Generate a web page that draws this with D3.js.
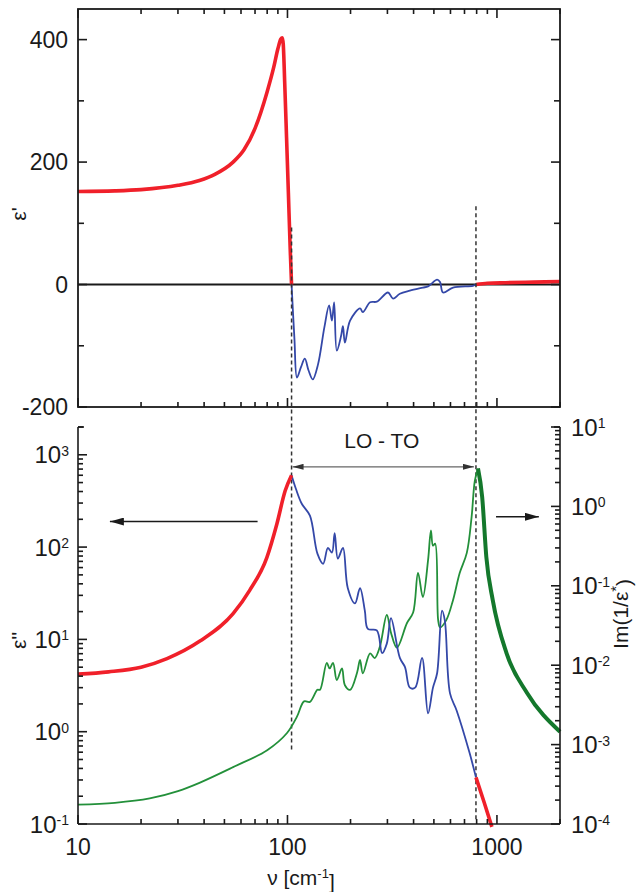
<!DOCTYPE html>
<html>
<head>
<meta charset="utf-8">
<script src="https://cdn.jsdelivr.net/npm/d3@7"></script>
<style>
  body { margin: 0; background: #fff; }
  svg text { font-family: "Liberation Sans", Arial, sans-serif; fill: #1a1a1a; }
</style>
</head>
<body>
<svg id="chart" width="637" height="892"></svg>
<script>
// eps' (top panel), [nu, value]
const epsRealLow = [[10,152],[15,153],[20,155],[30,162],[38,170],[45,180],[55,200],[62,220],[70,255],[80,315],[86,355],[90,385],[93,401],[94.5,403],[95.5,392],[97,330],[99,240],[101,150],[103,60],[104.6,0]];
const epsRealMid = [[104.6,0],[108,-90],[111,-152],[116,-135],[121,-121],[126,-140],[132,-155],[140,-130],[150,-70],[158,-34],[163,-59],[167,-29],[172,-108],[180,-85],[184,-68],[188,-95],[199,-59],[222,-39],[229,-45],[248,-29],[267,-28],[302,-13],[319,-23],[344,-15],[384,-10],[443,-5],[469,-3],[518,8],[535,4],[553,-13],[617,-5],[768,-2],[794,0]];
const epsRealHigh = [[794,0],[900,2],[1100,3],[1500,4],[2000,5]];

// eps'' (bottom panel, left axis)
const epsImagLow = [[10,4.2],[14,4.45],[20,5.0],[26.6,6.2],[38.2,9.6],[55,19],[66,34],[79.7,77],[89,178],[97.5,407],[104.6,600]];
const epsImagMid = [[104.6,600],[110,420],[117,295],[128,219],[139,85],[148,66],[156,98],[163,87],[168,142],[174,75],[184,98],[194,36],[210,24.5],[222,36],[234,20.5],[242,13],[267,12.5],[283,7.1],[298,9],[312,17],[344,6.3],[364,5],[384,3.0],[407,3.0],[439,6.3],[469,1.58],[495,3.0],[518,4.3],[547,20.5],[564,16],[597,2.6],[642,1.7],[740,0.59],[794,0.32]];
const epsImagHigh = [[794,0.32],[870,0.17],[946,0.093]];

// Im(1/eps*) (bottom panel, right axis)
const lossLow = [[10,1.75e-4],[15,1.85e-4],[22,2.1e-4],[30,2.6e-4],[38,3.3e-4],[55,5.2e-4],[80,8.5e-4],[99.5,1.4e-3],[111,2.25e-3],[120,3.5e-3],[128,3.45e-3],[139,4.9e-3],[143,4.9e-3],[154,1.07e-2],[159,9.1e-3],[165,1.07e-2],[172,6.5e-3],[182,9.1e-3],[188,5.6e-3],[199,4.9e-3],[215,8.1e-3],[222,1.17e-2],[229,7.9e-3],[248,1.41e-2],[261,1.23e-2],[276,1.7e-2],[298,4.3e-2],[312,2.57e-2],[333,1.66e-2],[372,3.4e-2],[398,4.6e-2],[420,0.145],[443,7.2e-2],[469,0.21],[484,0.5],[495,0.32],[507,0.34],[524,3.7e-2],[535,3.0e-2],[573,3.7e-2],[617,6.6e-2],[664,0.145],[718,0.26],[757,0.74],[784,2.1],[812,3.0]];
const lossHigh = [[812,3.0],[850,1.32],[890,0.23],[955,6.6e-2],[1112,1.41e-2],[1390,4.5e-3],[2000,1.45e-3]];

const xTickMajor = [10, 100, 1000];
const topTicks = [-200, -100, 0, 100, 200, 300, 400];
const topLabels = [-200, 0, 200, 400];
const leftExp = [-1, 0, 1, 2, 3];
const rightExp = [-4, -3, -2, -1, 0, 1];

const nuTO = 104.6, nuLO = 794;

const svg = d3.select('#chart');
const L = 78, R = 560;
const topT = 9, topB = 407, botT = 427, botB = 824;

const x = d3.scaleLog().domain([10, 2000]).range([L, R]);
const yTop = d3.scaleLinear().domain([-200, 450]).range([topB, topT]);
const yL = d3.scaleLog().domain([0.1, 2000]).range([botB, botT]);
const yR = d3.scaleLog().domain([1e-4, 10]).range([botB, botT]);

const RED = '#f0202a', BLUE = '#3448a8', GREEN = '#23903a', GREEN_D = '#14782c';
const INK = '#1a1a1a';

// minor ticks for log ranges
function logMinor(lo, hi) {
  const out = [];
  for (let e = Math.floor(Math.log10(lo)); e <= Math.ceil(Math.log10(hi)); e++) {
    for (let m = 1; m < 10; m++) {
      const v = m * Math.pow(10, e);
      if (v >= lo * 0.999 && v <= hi * 1.001) out.push({ v, major: m === 1 });
    }
  }
  return out;
}
const xTicks = logMinor(10, 2000);

function tickLine(g, x1, y1, x2, y2) {
  g.append('line').attr('x1', x1).attr('y1', y1).attr('x2', x2).attr('y2', y2)
    .attr('stroke', INK).attr('stroke-width', 1.6);
}

// ---------- top panel ----------
const gTop = svg.append('g');
gTop.append('line').attr('x1', L).attr('x2', R).attr('y1', yTop(0)).attr('y2', yTop(0))
  .attr('stroke', INK).attr('stroke-width', 2);

// dashed marker lines
const dash = svg.append('g').attr('stroke', '#333').attr('stroke-width', 1.5).attr('stroke-dasharray', '4,3');
dash.append('line').attr('x1', x(nuTO)).attr('x2', x(nuTO)).attr('y1', yTop(93)).attr('y2', yL(0.6));
dash.append('line').attr('x1', x(nuLO)).attr('x2', x(nuLO)).attr('y1', yTop(128)).attr('y2', yL(0.11));

const lineTop = d3.line().x(d => x(d[0])).y(d => yTop(d[1])).curve(d3.curveMonotoneX);
gTop.append('path').datum(epsRealMid).attr('d', lineTop.curve(d3.curveCatmullRom)).attr('fill', 'none')
  .attr('stroke', BLUE).attr('stroke-width', 1.8);
gTop.append('path').datum(epsRealLow).attr('d', lineTop.curve(d3.curveMonotoneX)).attr('fill', 'none')
  .attr('stroke', RED).attr('stroke-width', 3.6);
gTop.append('path').datum(epsRealHigh).attr('d', lineTop).attr('fill', 'none')
  .attr('stroke', RED).attr('stroke-width', 3.6);

// frame
gTop.append('rect').attr('x', L).attr('y', topT).attr('width', R - L).attr('height', topB - topT)
  .attr('fill', 'none').attr('stroke', INK).attr('stroke-width', 1.8);
xTicks.forEach(t => {
  const len = t.major ? 9 : 5;
  tickLine(gTop, x(t.v), topT, x(t.v), topT + len);
  tickLine(gTop, x(t.v), topB, x(t.v), topB - len);
});
topTicks.forEach(v => {
  const len = v % 200 === 0 ? 9 : 6;
  tickLine(gTop, L, yTop(v), L + len, yTop(v));
  tickLine(gTop, R, yTop(v), R - len, yTop(v));
});
topLabels.forEach(v => {
  gTop.append('text').attr('x', L - 10).attr('y', yTop(v)).attr('dy', '0.36em')
    .attr('text-anchor', 'end').attr('font-size', 23).text(v);
});
gTop.append('text').attr('transform', `translate(26,${(topT + topB) / 2 + 6}) rotate(-90)`)
  .attr('text-anchor', 'middle').attr('font-size', 21).text("\u03b5'");

// ---------- bottom panel ----------
const gBot = svg.append('g');
const lineL = d3.line().x(d => x(d[0])).y(d => yL(d[1])).curve(d3.curveCatmullRom);
const lineR = d3.line().x(d => x(d[0])).y(d => yR(d[1])).curve(d3.curveCatmullRom);

gBot.append('path').datum(lossLow).attr('d', lineR).attr('fill', 'none')
  .attr('stroke', GREEN).attr('stroke-width', 1.8);
gBot.append('path').datum(epsImagMid).attr('d', lineL).attr('fill', 'none')
  .attr('stroke', BLUE).attr('stroke-width', 1.8);
gBot.append('path').datum(lossHigh).attr('d', lineR.curve(d3.curveMonotoneX)).attr('fill', 'none')
  .attr('stroke', GREEN_D).attr('stroke-width', 4);
gBot.append('path').datum(epsImagLow).attr('d', lineL.curve(d3.curveMonotoneX)).attr('fill', 'none')
  .attr('stroke', RED).attr('stroke-width', 3.6);
gBot.append('path').datum(epsImagHigh).attr('d', lineL).attr('fill', 'none')
  .attr('stroke', RED).attr('stroke-width', 3.6);

// axes lines (no top border)
tickLine(gBot, L, botT, L, botB);
tickLine(gBot, R, botT, R, botB);
tickLine(gBot, L, botB, R, botB);
tickLine(gBot, L, botT, L + 6, botT);
tickLine(gBot, R, botT, R - 6, botT);
xTicks.forEach(t => {
  const len = t.major ? 9 : 5;
  tickLine(gBot, x(t.v), botB, x(t.v), botB - len);
});
logMinor(0.1, 2000).forEach(t => {
  tickLine(gBot, L, yL(t.v), L + (t.major ? 9 : 5), yL(t.v));
});
logMinor(1e-4, 10).forEach(t => {
  tickLine(gBot, R, yR(t.v), R - (t.major ? 9 : 5), yR(t.v));
});

function powLabel(g, px, py, exp, anchor) {
  const t = g.append('text').attr('x', px).attr('y', py).attr('dy', '0.36em')
    .attr('text-anchor', anchor).attr('font-size', 24);
  t.append('tspan').text('10');
  t.append('tspan').attr('dy', '-0.55em').attr('font-size', 14).text(exp);
}
leftExp.forEach(e => powLabel(gBot, L - 9, yL(Math.pow(10, e)), e, 'end'));
rightExp.forEach(e => powLabel(gBot, R + 11, yR(Math.pow(10, e)), e, 'start'));

xTickMajor.forEach(v => {
  gBot.append('text').attr('x', x(v)).attr('y', botB + 31).attr('text-anchor', 'middle')
    .attr('font-size', 23).text(v);
});
const xl = gBot.append('text').attr('x', x(116)).attr('y', botB + 61).attr('text-anchor', 'middle')
  .attr('font-size', 21);
xl.append('tspan').text('\u03bd [cm');
xl.append('tspan').attr('dy', '-0.55em').attr('font-size', 13).text('-1');
xl.append('tspan').attr('dy', '0.55em').text(']');

gBot.append('text').attr('transform', `translate(26,${yL(8) - 8}) rotate(-90)`)
  .attr('text-anchor', 'middle').attr('font-size', 21).text("\u03b5''");
const rl = gBot.append('text').attr('transform', `translate(628,${yR(0.012) - 45}) rotate(-90)`)
  .attr('text-anchor', 'middle').attr('font-size', 21);
rl.append('tspan').text('Im(1/\u03b5');
rl.append('tspan').attr('dy', '-0.45em').attr('font-size', 15).text('*');
rl.append('tspan').attr('dy', '0.45em').text(')');

// annotations
const defs = svg.append('defs');
function head(id, color, w, h) {
  defs.append('marker').attr('id', id).attr('viewBox', `0 0 ${w} ${h}`).attr('refX', w).attr('refY', h / 2)
    .attr('markerWidth', w).attr('markerHeight', h).attr('markerUnits', 'userSpaceOnUse').attr('orient', 'auto-start-reverse')
    .append('path').attr('d', `M0,0L${w},${h / 2}L0,${h}Z`).attr('fill', color);
}
head('hBig', INK, 14, 8);
head('hSmall', '#333', 11, 6);

const loY = yL(741);
gBot.append('line').attr('x1', x(nuTO) + 1).attr('x2', x(nuLO) - 2).attr('y1', loY).attr('y2', loY)
  .attr('stroke', '#666').attr('stroke-width', 1.2)
  .attr('marker-start', 'url(#hSmall)').attr('marker-end', 'url(#hSmall)');
gBot.append('text').attr('x', x(Math.sqrt(nuTO * nuLO)) - 2).attr('y', loY - 19).attr('text-anchor', 'middle')
  .attr('font-size', 21).text('LO - TO');

const aY = yL(189);
gBot.append('line').attr('x1', x(72)).attr('x2', x(14.2)).attr('y1', aY).attr('y2', aY)
  .attr('stroke', INK).attr('stroke-width', 1.6).attr('marker-end', 'url(#hBig)');
const bY = yR(0.74);
gBot.append('line').attr('x1', x(990)).attr('x2', x(1585)).attr('y1', bY).attr('y2', bY)
  .attr('stroke', INK).attr('stroke-width', 1.6).attr('marker-end', 'url(#hBig)');
</script>
</body>
</html>
